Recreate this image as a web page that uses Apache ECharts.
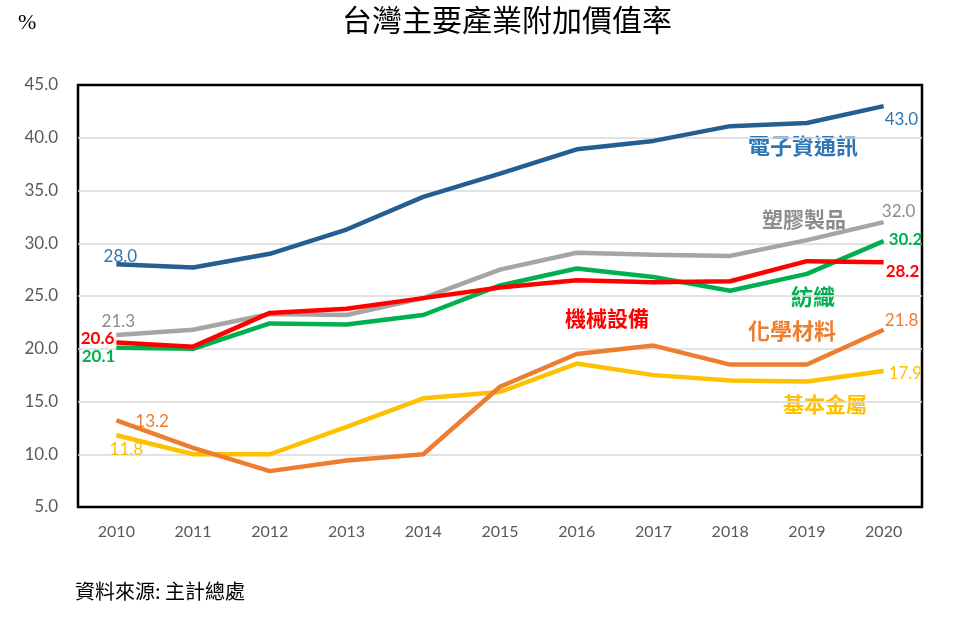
<!DOCTYPE html>
<html>
<head>
<meta charset="utf-8">
<script src="https://cdn.jsdelivr.net/npm/echarts@6/dist/echarts.min.js"></script>
<style>html,body{margin:0;padding:0;background:#fff}#c{width:954px;height:624px}</style>
</head>
<body>
<div id="c"></div>
<script>
const years = ['2010','2011','2012','2013','2014','2015','2016','2017','2018','2019','2020'];
const electronics = [28.0, 27.7, 29.0, 31.3, 34.4, 36.6, 38.9, 39.7, 41.1, 41.4, 43.0];
const plastics    = [21.3, 21.8, 23.3, 23.2, 24.8, 27.5, 29.1, 28.9, 28.8, 30.3, 32.0];
const textiles    = [20.1, 20.0, 22.4, 22.3, 23.2, 26.0, 27.6, 26.8, 25.5, 27.1, 30.2];
const machinery   = [20.6, 20.2, 23.4, 23.8, 24.8, 25.8, 26.5, 26.3, 26.4, 28.3, 28.2];
const chemicals   = [13.2, 10.6, 8.4, 9.4, 10.0, 16.4, 19.5, 20.3, 18.5, 18.5, 21.8];
const metals      = [11.8, 10.0, 10.0, 12.6, 15.3, 15.9, 18.6, 17.5, 17.0, 16.9, 17.9];
const names = ['電子資通訊','塑膠製品','紡織','機械設備','化學材料','基本金屬'];

const numFont = 'Lato, "Liberation Sans", sans-serif';
const cjkFont = '"Noto Sans CJK TC", sans-serif';

function lbl(x, y, align) {
  return { position: [x, y], align: align, verticalAlign: 'middle' };
}

function mk(name, values, color, textColor, bold, firstLbl, lastLbl, z) {
  const data = values.map((v, i) => {
    const item = { value: v };
    const cfg = i === 0 ? firstLbl : (i === values.length - 1 ? lastLbl : null);
    if (cfg) {
      item.label = Object.assign({
        show: true,
        formatter: p => p.value.toFixed(1),
        color: textColor,
        fontSize: 17,
        fontFamily: numFont,
        fontWeight: bold ? 'bold' : 'normal'
      }, cfg);
    }
    return item;
  });
  return {
    name, type: 'line', data, z,
    symbol: 'circle', symbolSize: 0.01, showSymbol: true,
    lineStyle: { color, width: 4.5 },
    itemStyle: { color },
    label: { show: false },
    labelLayout: { hideOverlap: false },
    animation: false
  };
}

const option = {
  backgroundColor: '#fff',
  animation: false,
  grid: { left: 78, right: 32, top: 85, bottom: 117, show: true, borderColor: '#000', borderWidth: 2.5, backgroundColor: 'transparent' },
  xAxis: {
    type: 'category', data: years, boundaryGap: true,
    axisLine: { show: false }, axisTick: { show: false },
    axisLabel: { color: '#595959', fontSize: 16, fontFamily: numFont, margin: 17 }
  },
  yAxis: {
    type: 'value', min: 5, max: 45, interval: 5,
    axisLine: { show: false }, axisTick: { show: false },
    axisLabel: { color: '#595959', fontSize: 17, fontFamily: numFont, margin: 20, formatter: v => v.toFixed(1) },
    splitLine: { showMinLine: false, showMaxLine: false, lineStyle: { color: '#D9D9D9', width: 1.5 } }
  },
  series: [
    mk(names[5], metals, '#FFC000', '#FFC000', false, lbl(10, 14, 'center'), lbl(5, 3, 'left'), 2),
    mk(names[4], chemicals, '#ED7D31', '#ED7D31', false, lbl(19, 1, 'left'), lbl(18, -9, 'center'), 3),
    mk(names[2], textiles, '#00B050', '#00B050', true, lbl(-1, 9, 'right'), lbl(5, -2, 'left'), 4),
    mk(names[1], plastics, '#A5A5A5', '#8C8C8C', false, lbl(2, -14, 'center'), lbl(15, -11, 'center'), 5),
    mk(names[3], machinery, '#FF0000', '#FF0000', true, lbl(-2, -4, 'right'), lbl(2, 9, 'left'), 6),
    mk(names[0], electronics, '#255E91', '#2E75B6', false, lbl(4, -8, 'center'), lbl(1, 13, 'left'), 7)
  ],
  graphic: [
    { type: 'text', left: 18, top: 12, style: { text: '%', fontSize: 22, fill: '#000', fontFamily: '"Liberation Serif", serif' } },
    { type: 'text', left: 342, top: 5, style: { text: '台灣主要產業附加價值率', fontSize: 30, fontWeight: 'normal', fill: '#000', fontFamily: cjkFont } },
    { type: 'text', left: 75, top: 581, style: { text: '資料來源: 主計總處', fontSize: 20, fill: '#000', fontFamily: cjkFont } },
    { type: 'text', left: 748, top: 135, style: { text: names[0], fontSize: 22, fontWeight: 'bold', fill: '#2E75B6', fontFamily: cjkFont } },
    { type: 'text', left: 762, top: 209, style: { text: names[1], fontSize: 21, fontWeight: 'bold', fill: '#8C8C8C', fontFamily: cjkFont } },
    { type: 'text', left: 791, top: 286, style: { text: names[2], fontSize: 22, fontWeight: 'bold', fill: '#00B050', fontFamily: cjkFont } },
    { type: 'text', left: 565, top: 308, style: { text: names[3], fontSize: 21, fontWeight: 'bold', fill: '#FF0000', fontFamily: cjkFont } },
    { type: 'text', left: 748, top: 320, style: { text: names[4], fontSize: 22, fontWeight: 'bold', fill: '#ED7D31', fontFamily: cjkFont } },
    { type: 'text', left: 783, top: 394, style: { text: names[5], fontSize: 21, fontWeight: 'bold', fill: '#FFC000', fontFamily: cjkFont } }
  ]
};
const chart = echarts.init(document.getElementById('c'), null, { renderer: 'canvas' });
chart.setOption(option);
</script>
</body>
</html>
